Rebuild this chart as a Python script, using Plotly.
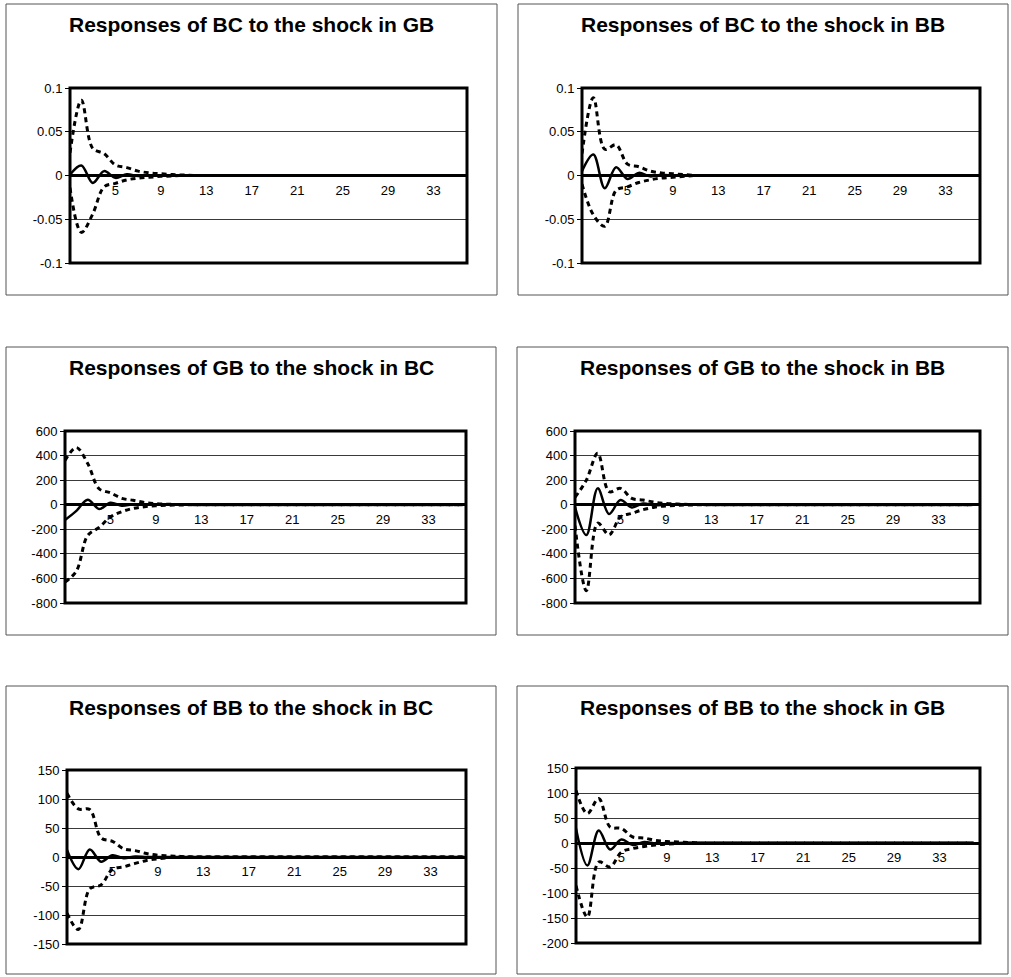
import plotly.graph_objects as go

# Impulse-response horizon (periods 1..36)
periods = list(range(1, 37))


def extend(vals, n=36):
    """Responses have died out after the listed periods; the rest are zero."""
    return list(vals) + [0.0] * (n - len(vals))


# Responses of BC to the shock in GB
bc_gb_resp = extend([0.001, 0.0115, -0.0085, 0.005, -0.0027, 0.0015, -0.0006, 0.0003])
bc_gb_upper = extend([0.026, 0.086, 0.031, 0.025, 0.012, 0.009, 0.005, 0.003, 0.002, 0.001, 0.0005])
bc_gb_lower = extend([-0.014, -0.065, -0.044, -0.013, -0.009, -0.005, -0.003, -0.002, -0.001, -0.0005])

# Responses of BC to the shock in BB
bc_bb_resp = extend([0.005, 0.024, -0.0145, 0.0095, -0.004, 0.003, -0.001, 0.0008])
bc_bb_upper = extend([0.025, 0.089, 0.03, 0.035, 0.013, 0.01, 0.005, 0.003, 0.002, 0.001])
bc_bb_lower = extend([-0.01, -0.045, -0.058, -0.017, -0.013, -0.008, -0.005, -0.003, -0.002, -0.001])

# Responses of GB to the shock in BC
gb_bc_resp = extend([-124, -50, 40, -35, 16, -8, 3, -1])
gb_bc_upper = extend([360, 465, 335, 130, 97, 52, 36, 18, 9, 4, 2, 1])
gb_bc_lower = extend([-630, -540, -250, -185, -100, -57, -30, -16, -8, -4, -2, -1])

# Responses of GB to the shock in BB
gb_bb_resp = extend([-20, -247, 133, -76, 38, -22, 10, -5, 2])
gb_bb_upper = extend([60, 200, 418, 106, 133, 52, 38, 20, 10, 5, 2, 1])
gb_bb_lower = extend([-170, -700, -150, -245, -100, -70, -40, -20, -10, -5, -2, -1])

# Responses of BB to the shock in BC
bb_bc_resp = extend([12, -21, 13, -8, 3, -2, 1])
bb_bc_upper = extend([110, 83, 82, 33, 27, 14, 11, 6, 3, 2, 1])
bb_bc_lower = extend([-97, -125, -55, -48, -21, -17, -11, -6, -3, -1])

# Responses of BB to the shock in GB
bb_gb_resp = extend([29, -45, 25, -13, 7, -4, 2, -1])
bb_gb_upper = extend([105, 59, 89, 32, 29, 12, 10, 5, 3, 2, 1])
bb_gb_lower = extend([-85, -148, -38, -48, -18, -11, -7, -4, -2, -1])

titles = [
    "Responses of BC to the shock in GB",
    "Responses of BC to the shock in BB",
    "Responses of GB to the shock in BC",
    "Responses of GB to the shock in BB",
    "Responses of BB to the shock in BC",
    "Responses of BB to the shock in GB",
]

x_tick_vals = [5, 9, 13, 17, 21, 25, 29, 33]
x_tick_text = ["5", "9", "13", "17", "21", "25", "29", "33"]

bc_ticks = [-0.1, -0.05, 0, 0.05, 0.1]
bc_tick_text = ["-0.1", "-0.05", "0", "0.05", "0.1"]
gb_ticks = [-800, -600, -400, -200, 0, 200, 400, 600]
gb_tick_text = ["-800", "-600", "-400", "-200", "0", "200", "400", "600"]
bb_bc_ticks = [-150, -100, -50, 0, 50, 100, 150]
bb_bc_tick_text = ["-150", "-100", "-50", "0", "50", "100", "150"]
bb_gb_ticks = [-200, -150, -100, -50, 0, 50, 100, 150]
bb_gb_tick_text = ["-200", "-150", "-100", "-50", "0", "50", "100", "150"]

panels = [
    dict(series=(bc_gb_upper, bc_gb_lower, bc_gb_resp), yr=(-0.1, 0.1),
         ticks=(bc_ticks, bc_tick_text), plot=(70, 88, 467, 263), outer=(6, 4, 497, 295)),
    dict(series=(bc_bb_upper, bc_bb_lower, bc_bb_resp), yr=(-0.1, 0.1),
         ticks=(bc_ticks, bc_tick_text), plot=(582, 88, 980, 263), outer=(518, 4, 1008, 295)),
    dict(series=(gb_bc_upper, gb_bc_lower, gb_bc_resp), yr=(-800, 600),
         ticks=(gb_ticks, gb_tick_text), plot=(65, 431, 466, 603), outer=(6, 347, 496, 635)),
    dict(series=(gb_bb_upper, gb_bb_lower, gb_bb_resp), yr=(-800, 600),
         ticks=(gb_ticks, gb_tick_text), plot=(575, 431, 980, 603), outer=(517, 347, 1008, 635)),
    dict(series=(bb_bc_upper, bb_bc_lower, bb_bc_resp), yr=(-150, 150),
         ticks=(bb_bc_ticks, bb_bc_tick_text), plot=(67, 770, 466, 944), outer=(6, 686, 496, 974)),
    dict(series=(bb_gb_upper, bb_gb_lower, bb_gb_resp), yr=(-200, 150),
         ticks=(bb_gb_ticks, bb_gb_tick_text), plot=(576, 768, 980, 943), outer=(517, 686, 1008, 974)),
]

W, H = 1011, 977
PX_PER_PERIOD = 11.36
FONT = "Liberation Sans, Arial, sans-serif"


def fx(px):
    return px / W


def fy(py):
    return 1 - py / H


fig = go.Figure()
layout = dict(
    width=W, height=H, margin=dict(l=0, r=0, t=0, b=0, pad=0, autoexpand=False),
    paper_bgcolor="white", plot_bgcolor="white", showlegend=False,
    font=dict(family=FONT, size=13, color="black"),
)
shapes = []
annotations = []

for i, p in enumerate(panels, start=1):
    sfx = "" if i == 1 else str(i)
    xa, ya = "x" + sfx, "y" + sfx
    upper, lower, resp = p["series"]
    for vals, dash, width in ((upper, "5px,4px", 3), (lower, "5px,4px", 3), (resp, "solid", 2.5)):
        fig.add_trace(go.Scatter(
            x=periods, y=vals, mode="lines", xaxis=xa, yaxis=ya,
            line=dict(color="black", width=width, dash=dash, shape="spline", smoothing=1.0),
            hoverinfo="skip",
        ))

    x0, y0, x1, y1 = p["plot"]
    ymin, ymax = p["yr"]
    ydom = [fy(y1), fy(y0)]
    zero_pos = ydom[0] + (0 - ymin) / (ymax - ymin) * (ydom[1] - ydom[0])
    xrange_end = 1 + (x1 - x0) / PX_PER_PERIOD

    layout["xaxis" + sfx] = dict(
        domain=[fx(x0), fx(x1)], range=[1, xrange_end], anchor="free", position=zero_pos,
        tickvals=x_tick_vals, ticktext=x_tick_text, ticks="", showgrid=False,
        zeroline=False, showline=False, ticklabelstandoff=5, automargin=False,
        tickfont=dict(family=FONT, size=13, color="black"),
    )
    tv, tt = p["ticks"]
    layout["yaxis" + sfx] = dict(
        domain=ydom, range=[ymin, ymax], anchor=xa, automargin=False,
        tickvals=tv, ticktext=tt, ticks="outside", ticklen=4, tickcolor="black",
        showgrid=True, gridcolor="#3a3a3a", gridwidth=1,
        zeroline=True, zerolinecolor="black", zerolinewidth=2.5, showline=False,
        tickfont=dict(family=FONT, size=13, color="black"),
    )
    shapes.append(dict(type="rect", xref=xa + " domain", yref=ya + " domain",
                       x0=0, x1=1, y0=0, y1=1, line=dict(color="black", width=3)))

    ox0, oy0, ox1, oy1 = p["outer"]
    shapes.append(dict(type="rect", xref="paper", yref="paper",
                       x0=fx(ox0), x1=fx(ox1), y0=fy(oy1), y1=fy(oy0),
                       line=dict(color="#555555", width=1), layer="below"))
    annotations.append(dict(
        text="<b>" + titles[i - 1] + "</b>", xref="paper", yref="paper",
        x=fx((ox0 + ox1) / 2), y=fy(oy0 + 21), xanchor="center", yanchor="middle",
        showarrow=False, font=dict(family=FONT, size=21, color="black"),
    ))

layout["shapes"] = shapes
layout["annotations"] = annotations
fig.update_layout(**layout)
fig.write_html("out.html")
